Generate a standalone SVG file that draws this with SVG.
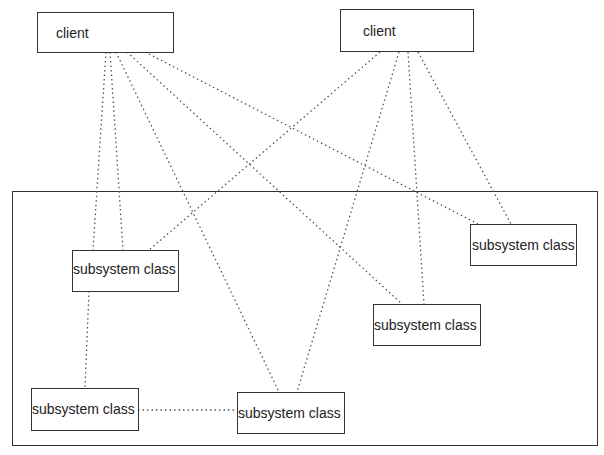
<svg xmlns="http://www.w3.org/2000/svg" width="604" height="455" viewBox="0 0 604 455">
<style>
.box{fill:#fff;stroke:#333;stroke-width:1}
.frame{fill:none;stroke:#333;stroke-width:1}
.t{font-family:"Liberation Sans",Arial,sans-serif;font-size:14px;fill:#222}
.c line{stroke:#555;stroke-width:1.3;stroke-dasharray:1.5 3;fill:none}
</style>
<rect width="604" height="455" fill="#fff"/>
<rect id="subsystem" class="frame" x="12.5" y="191.5" width="585" height="254"/>
<g class="c" id="connectors">
<line x1="106" y1="52" x2="93" y2="250"/>
<line x1="110" y1="52" x2="123" y2="250"/>
<line x1="116" y1="52" x2="279" y2="392"/>
<line x1="127" y1="52" x2="402" y2="304"/>
<line x1="145" y1="52" x2="478" y2="224"/>
<line x1="380" y1="52" x2="149" y2="250"/>
<line x1="399" y1="52" x2="297" y2="392"/>
<line x1="408" y1="52" x2="424" y2="304"/>
<line x1="418" y1="52" x2="511" y2="224"/>
<line x1="89" y1="291" x2="85" y2="388"/>
<line x1="138" y1="410" x2="237" y2="410"/>
</g>
<g id="client1"><rect class="box" x="37.5" y="12.5" width="136" height="40"/><text class="t" x="56" y="38">client</text></g>
<g id="client2"><rect class="box" x="340.5" y="9.5" width="133" height="42"/><text class="t" x="363" y="36">client</text></g>
<g id="subA"><rect class="box" x="72.5" y="250.5" width="106" height="41"/><text class="t" x="73" y="274">subsystem class</text></g>
<g id="subB"><rect class="box" x="470.5" y="224.5" width="106" height="41"/><text class="t" x="472" y="250">subsystem class</text></g>
<g id="subC"><rect class="box" x="373.5" y="304.5" width="107" height="41"/><text class="t" x="374" y="330">subsystem class</text></g>
<g id="subD"><rect class="box" x="31.5" y="388.5" width="107" height="42"/><text class="t" x="32" y="414">subsystem class</text></g>
<g id="subE"><rect class="box" x="237.5" y="392.5" width="107" height="41"/><text class="t" x="238" y="418">subsystem class</text></g>
</svg>
